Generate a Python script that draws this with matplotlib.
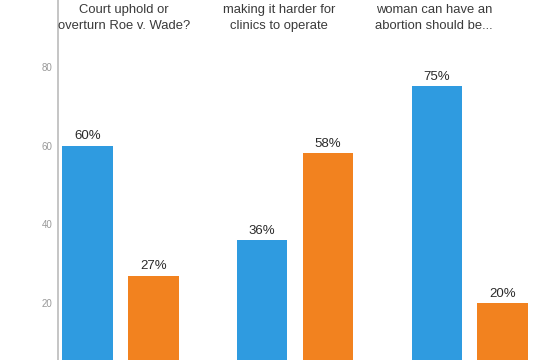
import numpy as np
import matplotlib
matplotlib.use("Agg")
import matplotlib.pyplot as plt

# data
titles = [
    "Court uphold or\noverturn Roe v. Wade?",
    "making it harder for\nclinics to operate",
    "woman can have an\nabortion should be...",
]
blue_vals = [60, 36, 75]
orange_vals = [27, 58, 20]
yticks = [20, 40, 60, 80]

BLUE = "#2f9be0"
ORANGE = "#f2821f"

plt.rcParams["font.family"] = ["Liberation Sans", "DejaVu Sans"]

fig = plt.figure(figsize=(5.5, 3.6), dpi=100)
ax = fig.add_axes([58 / 550, 0, 1 - 58 / 550, 1])

x = np.arange(len(titles))
w = 0.287
off = 0.189
b1 = ax.bar(x - off, blue_vals, w, color=BLUE)
b2 = ax.bar(x + off, orange_vals, w, color=ORANGE)

for bars in (b1, b2):
    for r in bars:
        ax.annotate(f"{r.get_height():.0f}%",
                    (r.get_x() + r.get_width() / 2, r.get_height()),
                    xytext=(0, 2.5), textcoords="offset points",
                    ha="center", va="bottom", fontsize=9.5,
                    color="#2a2a2a")

ax.set_xlim(-0.358, 2.461)
ax.set_ylim(5.65, 96.9)
ax.set_xticks([])
ax.set_yticks(yticks)
ax.tick_params(axis="y", length=0, pad=4, labelsize=7, labelcolor="#999999")

for s in ("top", "right", "bottom"):
    ax.spines[s].set_visible(False)
ax.spines["left"].set_color("#bbbbbb")
ax.spines["left"].set_linewidth(1.2)

# group headings, only the last two lines are visible in the crop
title_x = [124, 279, 434]
for t, px in zip(titles, title_x):
    fig.text(px / 550, 1 - 18 / 360, t, ha="center", va="center",
             fontsize=9.4, color="#3a3a3a", linespacing=1.45)

fig.savefig("out.png", dpi=100)
